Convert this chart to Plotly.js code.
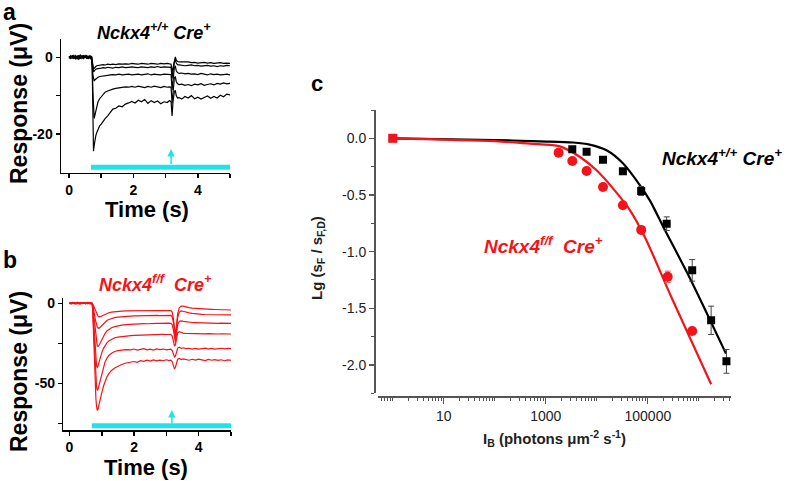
<!DOCTYPE html>
<html><head><meta charset="utf-8">
<script src="https://cdn.plot.ly/plotly-3.0.1.min.js"></script>
<style>html,body{margin:0;padding:0;background:#fff;} #chart{width:787px;height:481px;}</style>
</head><body><div id="chart"></div>
<script>
// ---------- Panel a : Nckx4+/+ Cre+ responses (µV) ----------
const tA = [0,0.05,0.1,0.15,0.2,0.25,0.3,0.35,0.4,0.45,0.5,0.55,0.6,0.65,0.7,
  0.72,0.74,0.76,0.78,0.8,0.83,0.86,0.9,0.95,1.0,1.06,1.12,1.2,1.28,1.36,1.45,1.55,1.65,1.75,1.85,1.95,
  2.05,2.15,2.25,2.35,2.45,2.55,2.65,2.75,2.85,2.95,3.05,3.12,
  3.17,3.2,3.23,3.27,3.3,3.33,3.37,3.42,
  3.5,3.6,3.7,3.8,3.9,4.0,4.1,4.2,4.3,4.4,4.5,4.6,4.7,4.8,4.9,5.0];
const a1 = [0.1,0.0,-0.2,0.2,0.1,-0.1,0.3,0.0,-0.1,0.2,0.0,0.3,0.1,-0.1,0.2,
  -1.0,-2.6,-3.1,-2.9,-2.6,-2.4,-2.2,-2.1,-2.0,-2.0,-1.9,-2.0,-1.8,-1.9,-1.8,-1.9,-1.7,-1.8,-1.7,-1.8,-1.6,
  -1.7,-1.8,-1.6,-1.7,-1.8,-1.6,-1.7,-1.8,-1.6,-1.7,-1.6,-1.7,
  -1.8,-4.0,-2.5,-0.6,0.1,-0.7,-1.1,-1.2,
  -1.2,-1.3,-1.2,-1.4,-1.3,-1.5,-1.4,-1.3,-1.5,-1.4,-1.6,-1.5,-1.4,-1.6,-1.5,-1.6];
const a2 = [-0.1,0.3,0.1,-0.3,0.2,0.0,0.4,-0.2,0.2,-0.1,0.3,0.1,-0.3,0.2,0.1,
  -1.2,-3.2,-3.8,-3.6,-3.3,-3.1,-3.0,-2.9,-2.8,-2.8,-2.7,-2.8,-2.6,-2.7,-2.8,-2.6,-2.7,-2.5,-2.7,-2.6,-2.5,
  -2.6,-2.7,-2.5,-2.6,-2.7,-2.5,-2.6,-2.4,-2.6,-2.5,-2.6,-2.5,
  -2.6,-5.5,-3.2,-1.3,-0.6,-1.5,-1.9,-2.0,
  -2.0,-2.2,-2.1,-2.0,-2.2,-2.1,-2.3,-2.2,-2.1,-2.3,-2.2,-2.4,-2.2,-2.3,-2.1,-2.2];
const a3 = [0.2,-0.2,0.3,0.0,-0.3,0.4,0.1,-0.2,0.3,0.5,-0.1,0.2,0.0,0.4,-0.2,
  -1.5,-4.5,-6.0,-6.2,-5.9,-5.6,-5.4,-5.2,-5.0,-4.9,-4.8,-4.7,-4.7,-4.6,-4.5,-4.6,-4.4,-4.6,-4.5,-4.4,-4.6,
  -4.5,-4.4,-4.6,-4.5,-4.3,-4.6,-4.4,-4.5,-4.6,-4.4,-4.5,-4.4,
  -4.5,-8.5,-5.0,-2.8,-2.2,-3.5,-4.0,-4.2,
  -4.1,-4.3,-4.2,-4.4,-4.3,-4.5,-4.2,-4.4,-4.6,-4.3,-4.5,-4.4,-4.6,-4.5,-4.4,-4.6];
const a4 = [-0.3,0.4,-0.1,0.5,-0.4,0.2,-0.5,0.1,0.4,-0.3,0.2,0.5,-0.4,0.3,0.0,
  -2.5,-9.0,-14.5,-15.9,-15.2,-13.8,-12.6,-11.6,-10.8,-10.2,-9.6,-9.1,-8.8,-8.5,-8.3,-8.1,-7.9,-7.9,-7.7,-7.8,-7.6,
  -7.8,-7.5,-7.7,-7.9,-7.6,-7.8,-7.5,-7.7,-7.9,-7.6,-7.8,-7.7,
  -7.8,-12.0,-8.0,-5.5,-5.0,-6.3,-6.9,-7.1,
  -7.0,-7.3,-7.1,-7.4,-7.0,-7.2,-6.9,-7.3,-7.1,-6.9,-7.2,-6.8,-7.0,-6.7,-6.9,-6.8];
const a5 = [0.3,-0.4,0.5,-0.2,0.4,-0.5,0.2,0.6,-0.3,0.1,0.5,-0.4,0.3,-0.2,-0.6,
  -3.0,-14.0,-24.5,-23.0,-21.8,-20.5,-19.7,-18.8,-17.9,-17.4,-16.6,-16.0,-15.3,-14.4,-13.5,-13.3,-12.7,-12.9,-12.2,-11.9,-11.5,
  -11.9,-11.2,-11.6,-11.0,-12.0,-11.3,-11.8,-11.4,-12.1,-11.6,-11.8,-11.3,
  -11.6,-15.3,-11.5,-9.0,-8.6,-10.0,-10.6,-10.5,
  -10.9,-10.2,-10.6,-10.0,-10.8,-10.4,-10.9,-10.5,-10.1,-10.7,-10.2,-10.6,-9.9,-10.3,-9.6,-9.8];
const stimA = [0.68, 5.0];      // background light bar (s)
const probeA = 3.17;            // probe flash time (s)

// ---------- Panel b : Nckx4f/f Cre+ responses (µV) ----------
const tB = [0,0.05,0.1,0.15,0.2,0.25,0.3,0.35,0.4,0.45,0.5,0.55,0.6,0.65,0.7,
  0.72,0.74,0.76,0.78,0.8,0.82,0.84,0.86,0.88,0.9,0.93,0.96,1.0,1.05,1.1,1.16,1.22,1.3,1.4,1.5,1.62,1.75,1.9,
  2.0,2.1,2.2,2.3,2.4,2.5,2.6,2.7,2.8,2.9,3.0,3.08,3.14,
  3.18,3.22,3.25,3.28,3.31,3.35,3.4,3.46,3.52,3.6,
  3.7,3.8,3.9,4.0,4.1,4.2,4.3,4.4,4.5,4.6,4.7,4.8,4.9,5.0];
const b1 = [0.0,0.1,-0.1,0.1,0.0,0.2,-0.1,0.0,0.1,-0.1,0.1,0.0,0.2,-0.1,0.0,
  -0.4,-1.2,-2.3,-3.5,-4.7,-5.8,-6.7,-7.4,-7.9,-8.3,-8.5,-8.4,-8.0,-7.4,-6.8,-6.3,-5.9,-5.5,-5.2,-5.0,-4.9,-4.8,-4.7,
  -4.7,-4.6,-4.6,-4.6,-4.5,-4.6,-4.5,-4.5,-4.6,-4.5,-4.5,-4.6,-4.6,
  -5.5,-9.5,-15.5,-19.0,-14.5,-6.5,-2.8,-1.8,-1.8,-2.3,
  -2.7,-3.0,-3.2,-3.4,-3.5,-3.6,-3.7,-3.8,-3.9,-3.9,-4.0,-4.1,-4.1,-4.2];
const b2 = [0.1,-0.1,0.2,0.0,0.1,-0.2,0.2,0.0,-0.1,0.2,0.1,-0.1,0.0,0.2,0.0,
  -0.8,-2.5,-5.0,-7.5,-10.0,-12.0,-13.6,-14.7,-15.3,-15.6,-15.4,-14.8,-13.9,-12.7,-11.7,-10.8,-10.1,-9.5,-9.0,-8.7,-8.4,-8.2,-8.0,
  -7.9,-7.9,-7.8,-7.8,-7.7,-7.8,-7.7,-7.6,-7.7,-7.6,-7.6,-7.5,-7.6,
  -8.5,-12.0,-18.0,-21.5,-17.0,-9.0,-5.5,-4.8,-5.0,-5.6,
  -6.0,-6.3,-6.6,-6.8,-6.9,-7.0,-7.1,-7.1,-7.2,-7.2,-7.3,-7.3,-7.3,-7.3];
const b3 = [-0.1,0.2,0.0,0.3,-0.2,0.1,0.2,-0.1,0.0,0.3,-0.2,0.1,0.2,0.0,-0.1,
  -1.5,-5.0,-10.0,-15.0,-19.5,-23.0,-25.3,-26.5,-27.0,-26.8,-25.8,-24.5,-22.9,-20.8,-18.9,-17.3,-16.2,-15.3,-14.6,-14.1,-13.7,-13.4,-13.1,
  -13.0,-12.9,-12.8,-12.7,-12.8,-12.6,-12.6,-12.5,-12.6,-12.4,-12.5,-12.4,-12.5,
  -13.5,-17.0,-22.0,-24.5,-20.0,-13.5,-11.2,-11.0,-11.3,-11.6,
  -11.8,-12.0,-12.1,-12.2,-12.2,-12.3,-12.3,-12.4,-12.4,-12.5,-12.4,-12.5,-12.5,-12.5];
const b4 = [0.2,-0.2,0.3,0.0,-0.3,0.4,0.1,-0.2,0.3,0.2,-0.1,0.4,-0.2,0.2,0.0,
  -2.5,-9.0,-17.0,-25.0,-32.0,-36.5,-39.0,-40.0,-39.5,-38.0,-35.5,-33.5,-31.0,-28.3,-26.3,-24.8,-23.5,-22.5,-21.6,-21.1,-20.7,-20.4,-20.2,
  -20.0,-19.9,-19.8,-19.7,-19.8,-19.6,-19.6,-19.5,-19.6,-19.4,-19.5,-19.4,-19.5,
  -20.5,-23.5,-26.5,-26.0,-22.0,-18.5,-17.8,-18.3,-18.6,-18.8,
  -18.9,-19.0,-18.9,-19.1,-19.0,-19.1,-19.0,-19.2,-19.1,-19.2,-19.1,-19.2,-19.2,-19.2];
const b5 = [-0.3,0.4,-0.2,0.5,-0.4,0.2,0.3,-0.5,0.4,-0.1,0.3,-0.3,0.5,0.1,-0.2,
  -3.5,-13.0,-24.0,-34.0,-42.5,-48.5,-52.5,-54.5,-54.0,-52.5,-50.0,-47.0,-43.5,-39.6,-36.8,-34.4,-32.6,-31.2,-30.1,-29.6,-29.3,-29.0,-29.1,
  -28.6,-29.3,-28.9,-28.4,-29.1,-28.7,-29.2,-28.5,-29.0,-28.6,-29.1,-28.8,-28.7,
  -29.5,-31.5,-33.5,-33.0,-30.5,-28.0,-27.5,-28.2,-27.8,-28.3,
  -28.1,-28.6,-28.2,-28.7,-28.3,-28.0,-28.6,-28.2,-28.7,-28.4,-28.1,-28.5,-28.2,-28.4];
const b6 = [0.4,-0.5,0.6,-0.3,0.2,0.7,-0.6,0.3,-0.2,0.5,-0.4,0.6,0.0,-0.5,0.3,
  -4.0,-16.0,-30.0,-43.0,-53.0,-60.0,-64.5,-67.0,-66.5,-65.0,-62.5,-59.5,-56.0,-52.0,-48.8,-46.0,-44.0,-42.0,-40.4,-39.3,-38.3,-37.3,-36.8,
  -36.4,-36.9,-35.8,-36.3,-35.6,-36.1,-35.4,-36.0,-35.5,-35.9,-35.3,-35.8,-35.5,
  -36.5,-39.0,-41.0,-40.0,-37.5,-35.0,-34.5,-35.2,-34.8,-35.3,
  -35.6,-35.0,-35.5,-34.9,-35.4,-35.8,-35.1,-35.6,-35.2,-35.7,-35.3,-35.9,-35.4,-35.6];
const stimB = [0.69, 5.0];
const probeB = 3.17;

// ---------- Panel c : desensitization vs background intensity ----------
const blackI   = [1, 3.3e3, 6.3e3, 1.32e4, 3.24e4, 7.4e4, 2.34e5, 7.4e5, 1.74e6, 3.47e6];
const blackY   = [0, -0.097, -0.118, -0.19, -0.29, -0.465, -0.753, -1.165, -1.606, -1.968];
const blackErr = [0, 0.02, 0.01, 0.01, 0.01, 0.04, 0.06, 0.095, 0.125, 0.105];
const redI     = [1, 1.78e3, 3.3e3, 6.3e3, 1.32e4, 3.24e4, 7.4e4, 2.45e5, 7.4e5];
const redY     = [0, -0.128, -0.2, -0.288, -0.43, -0.59, -0.808, -1.222, -1.70];
const redErr   = [0, 0.01, 0.01, 0.01, 0.01, 0.015, 0.02, 0.05, 0.02];
const blackFitI = [1, 100, 760, 3.4e3, 7.2e3, 1.55e4, 3.24e4, 6.9e4, 1.1e5, 2.0e5, 6.6e5, 3.4e6];
const blackFitY = [0, -0.015, -0.027, -0.037, -0.055, -0.106, -0.22, -0.41, -0.55, -0.78, -1.23, -1.90];
const redFitI   = [1, 100, 490, 1.62e3, 2.19e3, 4.68e3, 9.77e3, 2.09e4, 4.47e4, 8.71e4, 2.88e5, 1.74e6];
const redFitY   = [0, -0.025, -0.047, -0.065, -0.082, -0.165, -0.28, -0.444, -0.635, -0.87, -1.40, -2.17];
const cXTickVals = [10, 1000, 1e5];
const cXTickText = ['10', '1000', '100000'];
const cYTickVals = [0, -0.5, -1, -1.5, -2];
const cYTickText = ['0.0', '-0.5', '-1.0', '-1.5', '-2.0'];

// ---------- layout helpers ----------
const W = 787, H = 481;
const px = x => x / W, py = y => 1 - y / H;
const CYAN = '#1de4ea', RED = '#f2141a';
const FONT = 'Liberation Sans, Arial, sans-serif';

const traces = [];
traces.push({x: stimA, y: [-28.7, -28.7], xaxis: 'x', yaxis: 'y', mode: 'lines', line: {color: CYAN, width: 5}, hoverinfo: 'skip'});
traces.push({x: stimB, y: [-76.6, -76.6], xaxis: 'x2', yaxis: 'y2', mode: 'lines', line: {color: CYAN, width: 5}, hoverinfo: 'skip'});
[a1, a2, a3, a4, a5].forEach(v => traces.push({x: tA, y: v, xaxis: 'x', yaxis: 'y', mode: 'lines', line: {color: '#000', width: 1.2}}));
[b1, b2, b3, b4, b5, b6].forEach(v => traces.push({x: tB, y: v, xaxis: 'x2', yaxis: 'y2', mode: 'lines', line: {color: RED, width: 1.2}}));
traces.push({x: blackFitI, y: blackFitY, xaxis: 'x3', yaxis: 'y3', mode: 'lines', line: {color: '#000', width: 2.2, shape: 'spline', smoothing: 0.8}});
traces.push({x: redFitI, y: redFitY, xaxis: 'x3', yaxis: 'y3', mode: 'lines', line: {color: RED, width: 2.2, shape: 'spline', smoothing: 0.8}});
traces.push({x: blackI, y: blackY, xaxis: 'x3', yaxis: 'y3', mode: 'markers',
  marker: {symbol: 'square', size: 8, color: '#000', opacity: 1, line: {width: 0}},
  error_y: {type: 'data', array: blackErr, color: '#444', thickness: 1, width: 3}});
traces.push({x: redI, y: redY, xaxis: 'x3', yaxis: 'y3', mode: 'markers',
  marker: {symbol: ['square','circle','circle','circle','circle','circle','circle','circle','circle'],
           size: [9,10,10,10,10,10,10,10,10], color: RED, opacity: 1, line: {width: 0}},
  error_y: {type: 'data', array: redErr, color: '#e06060', thickness: 1, width: 3}});

const abAxis = {showgrid: false, zeroline: false, showline: true, linecolor: '#000', linewidth: 1.5,
  ticks: 'outside', ticklen: 4, tickwidth: 1.5, tickcolor: '#000',
  tickfont: {family: FONT, size: 14, color: '#000', weight: 'bold'}, tickmode: 'array'};
const abMinor = vals => ({tickmode: 'array', tickvals: vals, ticks: 'outside', ticklen: 4, tickwidth: 1.5, tickcolor: '#000'});

const minorX = [1, 100, 1e4, 1e6];
for (let d = 0.1; d < 1e7; d *= 10) for (let k = 2; k <= 9; k++) minorX.push(Math.round(d * k * 100) / 100);

const layout = {
  width: W, height: H, autosize: false, margin: {l: 0, r: 0, t: 0, b: 0},
  paper_bgcolor: '#fff', plot_bgcolor: 'rgba(0,0,0,0)', showlegend: false, hovermode: false,
  xaxis: Object.assign({}, abAxis, {domain: [px(61), px(230)], range: [-0.25, 5.0], anchor: 'y',
    tickvals: [0,2,4], ticktext: ['0','2','4'], minor: abMinor([1,3,5])}),
  yaxis: Object.assign({}, abAxis, {domain: [py(172.7), py(39.3)], range: [-30.1, 4.7], anchor: 'x',
    tickvals: [0,-20], ticktext: ['0','-20'], minor: abMinor([-10])}),
  xaxis2: Object.assign({}, abAxis, {domain: [px(63.3), px(231)], range: [-0.19, 5.0], anchor: 'y2',
    tickvals: [0,2,4], ticktext: ['0','2','4'], minor: abMinor([1,3,5])}),
  yaxis2: Object.assign({}, abAxis, {domain: [py(430), py(298)], range: [-79.2, 3.3], anchor: 'x2',
    tickvals: [0,-50], ticktext: ['0','-50'], minor: abMinor([-25,-75])}),
  xaxis3: {type: 'log', domain: [px(378), px(731)], range: [-0.29, 6.63], anchor: 'free', position: py(396.7),
    showgrid: false, zeroline: false, showline: true, linecolor: '#555', linewidth: 2,
    ticks: 'outside', ticklen: 6, tickwidth: 1.3, tickcolor: '#555', tickmode: 'array',
    tickvals: cXTickVals, ticktext: cXTickText,
    tickfont: {family: FONT, size: 14, color: '#222'},
    minor: {tickmode: 'array', tickvals: minorX, ticks: 'outside', ticklen: 3, tickwidth: 1, tickcolor: '#555'}},
  yaxis3: {domain: [py(393.3), py(110)], range: [-2.25, 0.25], anchor: 'free', position: px(375),
    showgrid: false, zeroline: false, showline: true, linecolor: '#555', linewidth: 2,
    ticks: 'outside', ticklen: 5, tickwidth: 1.3, tickcolor: '#555', tickmode: 'array',
    tickvals: cYTickVals, ticktext: cYTickText,
    tickfont: {family: FONT, size: 14, color: '#222'},
    minor: {tickmode: 'array', tickvals: [0.25,-0.25,-0.75,-1.25,-1.75,-2.25], ticks: 'outside', ticklen: 3, tickwidth: 1, tickcolor: '#555'}},
  annotations: [
    {xref: 'paper', yref: 'paper', x: px(9), y: py(12), text: '<b>a</b>', showarrow: false, font: {family: FONT, size: 23, color: '#000'}, xanchor: 'center', yanchor: 'middle'},
    {xref: 'paper', yref: 'paper', x: px(10), y: py(260), text: '<b>b</b>', showarrow: false, font: {family: FONT, size: 23, color: '#000'}, xanchor: 'center', yanchor: 'middle'},
    {xref: 'paper', yref: 'paper', x: px(317), y: py(83), text: '<b>c</b>', showarrow: false, font: {family: FONT, size: 22, color: '#000'}, xanchor: 'center', yanchor: 'middle'},
    {xref: 'paper', yref: 'paper', x: px(154), y: py(31), text: '<b><i>Nckx4<sup>+/+</sup> Cre<sup>+</sup></i></b>', showarrow: false, font: {family: FONT, size: 18, color: '#000'}, xanchor: 'center', yanchor: 'middle'},
    {xref: 'paper', yref: 'paper', x: px(155), y: py(283), text: '<b><i>Nckx4<sup>f/f</sup>  Cre<sup>+</sup></i></b>', showarrow: false, font: {family: FONT, size: 18, color: RED}, xanchor: 'center', yanchor: 'middle'},
    {xref: 'paper', yref: 'paper', x: px(19), y: py(104), text: '<b>Response (μV)</b>', textangle: -90, showarrow: false, font: {family: FONT, size: 23, color: '#000'}, xanchor: 'center', yanchor: 'middle'},
    {xref: 'paper', yref: 'paper', x: px(19), y: py(372), text: '<b>Response (μV)</b>', textangle: -90, showarrow: false, font: {family: FONT, size: 23, color: '#000'}, xanchor: 'center', yanchor: 'middle'},
    {xref: 'paper', yref: 'paper', x: px(147), y: py(209.5), text: '<b>Time (s)</b>', showarrow: false, font: {family: FONT, size: 22, color: '#000'}, xanchor: 'center', yanchor: 'middle'},
    {xref: 'paper', yref: 'paper', x: px(146), y: py(467), text: '<b>Time (s)</b>', showarrow: false, font: {family: FONT, size: 22, color: '#000'}, xanchor: 'center', yanchor: 'middle'},
    {xref: 'paper', yref: 'paper', x: px(317), y: py(258), text: '<b>Lg (s<sub>F</sub> / s<sub>F,D</sub>)</b>', textangle: -90, showarrow: false, font: {family: FONT, size: 15, color: '#222'}, xanchor: 'center', yanchor: 'middle'},
    {xref: 'paper', yref: 'paper', x: px(554), y: py(438), text: '<b>I<sub>B</sub> (photons μm<sup>-2</sup> s<sup>-1</sup>)</b>', showarrow: false, font: {family: FONT, size: 15, color: '#222'}, xanchor: 'center', yanchor: 'middle'},
    {xref: 'paper', yref: 'paper', x: px(722), y: py(157), text: '<b><i>Nckx4<sup>+/+</sup> Cre<sup>+</sup></i></b>', showarrow: false, font: {family: FONT, size: 19, color: '#000'}, xanchor: 'center', yanchor: 'middle'},
    {xref: 'paper', yref: 'paper', x: px(543), y: py(245), text: '<b><i>Nckx4<sup>f/f</sup>  Cre<sup>+</sup></i></b>', showarrow: false, font: {family: FONT, size: 19, color: RED}, xanchor: 'center', yanchor: 'middle'},
    {xref: 'x', yref: 'y', axref: 'x', ayref: 'y', x: probeA, y: -23.9, ax: probeA, ay: -28.3, text: '', showarrow: true, arrowhead: 2, arrowsize: 1, arrowwidth: 1.5, arrowcolor: CYAN},
    {xref: 'x2', yref: 'y2', axref: 'x2', ayref: 'y2', x: probeB, y: -66.7, ax: probeB, ay: -76, text: '', showarrow: true, arrowhead: 2, arrowsize: 1, arrowwidth: 1.5, arrowcolor: CYAN}
  ]
};

Plotly.newPlot('chart', traces, layout, {displayModeBar: false, staticPlot: true});
</script></body></html>
